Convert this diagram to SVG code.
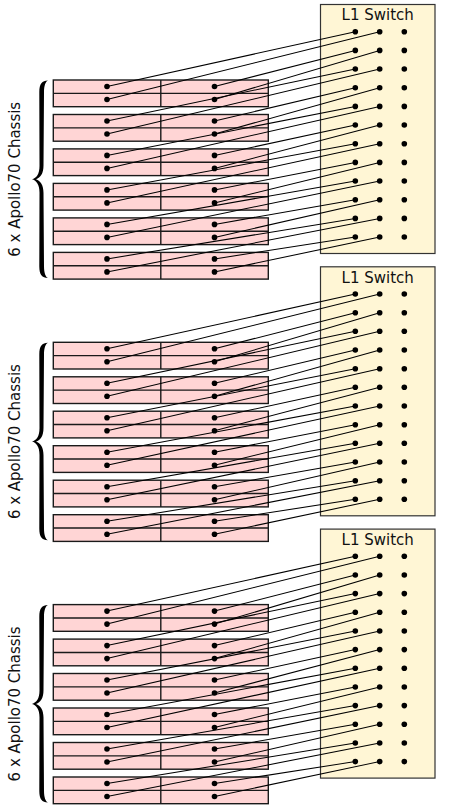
<svg xmlns="http://www.w3.org/2000/svg" xmlns:xlink="http://www.w3.org/1999/xlink" width="450" height="810" viewBox="0 0 450 810">
<style>
.ch{fill:#ffd5d5;stroke:#1a1a1a;stroke-width:1.4}
.chl{fill:none;stroke:#1a1a1a;stroke-width:1.4}
.sw{fill:#fff6d5;stroke:#333;stroke-width:1.2}
.st{font-family:"DejaVu Sans",sans-serif;font-size:15px;fill:#111;text-anchor:middle}
.lt{font-family:"DejaVu Sans",sans-serif;font-size:15px;fill:#111;text-anchor:middle}
.cn line{stroke:#000;stroke-width:1.05}
circle{fill:#000}
.br{fill:#000}
</style>
<defs>
<path id="brace" class="br" d="M48,80.5 C42,80.5 39.3,84 39.3,92 L39.5,166 C39.5,174 36.5,178 32,179.3 C36.5,180.6 39.5,184.6 39.5,192.6 L39.3,266.5 C39.3,274.5 42,278 48,278 C45.5,277 44,273 44,266 L43.5,193 C43.5,185 40.5,181 36,179.3 C40.5,177.6 43.5,173.6 43.5,165.6 L44,92.5 C44,85.5 45.5,81.5 48,80.5 Z"/>
</defs>

<!-- ===== Group 1 ===== -->
<g id="label1">
<use href="#brace"/>
<text class="lt" transform="translate(19.5,179.3) rotate(-90)" textLength="155">6 x Apollo70 Chassis</text>
</g>
<g id="chassis1-1"><rect class="ch" x="53.3" y="80" width="215" height="26.7"/><path class="chl" d="M160.8,80V106.7M53.3,93.35H268.3"/></g>
<g id="chassis1-2"><rect class="ch" x="53.3" y="114.5" width="215" height="26.7"/><path class="chl" d="M160.8,114.5V141.2M53.3,127.85H268.3"/></g>
<g id="chassis1-3"><rect class="ch" x="53.3" y="148.9" width="215" height="26.7"/><path class="chl" d="M160.8,148.9V175.6M53.3,162.25H268.3"/></g>
<g id="chassis1-4"><rect class="ch" x="53.3" y="183.4" width="215" height="26.7"/><path class="chl" d="M160.8,183.4V210.1M53.3,196.75H268.3"/></g>
<g id="chassis1-5"><rect class="ch" x="53.3" y="217.9" width="215" height="26.7"/><path class="chl" d="M160.8,217.9V244.6M53.3,231.25H268.3"/></g>
<g id="chassis1-6"><rect class="ch" x="53.3" y="252.4" width="215" height="26.7"/><path class="chl" d="M160.8,252.4V279.1M53.3,265.75H268.3"/></g>
<g id="switch1"><rect class="sw" x="320.5" y="4.5" width="114.5" height="249"/><text class="st" x="377.75" y="20.3">L1 Switch</text></g>

<!-- ===== Group 2 ===== -->
<g id="label2">
<use href="#brace" y="262.3"/>
<text class="lt" transform="translate(19.5,441.6) rotate(-90)" textLength="155">6 x Apollo70 Chassis</text>
</g>
<g id="chassis2-1"><rect class="ch" x="53.3" y="342.3" width="215" height="26.7"/><path class="chl" d="M160.8,342.3V369M53.3,355.65H268.3"/></g>
<g id="chassis2-2"><rect class="ch" x="53.3" y="376.8" width="215" height="26.7"/><path class="chl" d="M160.8,376.8V403.5M53.3,390.15H268.3"/></g>
<g id="chassis2-3"><rect class="ch" x="53.3" y="411.2" width="215" height="26.7"/><path class="chl" d="M160.8,411.2V437.9M53.3,424.55H268.3"/></g>
<g id="chassis2-4"><rect class="ch" x="53.3" y="445.7" width="215" height="26.7"/><path class="chl" d="M160.8,445.7V472.4M53.3,459.05H268.3"/></g>
<g id="chassis2-5"><rect class="ch" x="53.3" y="480.2" width="215" height="26.7"/><path class="chl" d="M160.8,480.2V506.9M53.3,493.55H268.3"/></g>
<g id="chassis2-6"><rect class="ch" x="53.3" y="514.7" width="215" height="26.7"/><path class="chl" d="M160.8,514.7V541.4M53.3,528.05H268.3"/></g>
<g id="switch2"><rect class="sw" x="320.5" y="266.8" width="114.5" height="249"/><text class="st" x="377.75" y="282.6">L1 Switch</text></g>

<!-- ===== Group 3 ===== -->
<g id="label3">
<use href="#brace" y="524.6"/>
<text class="lt" transform="translate(19.5,703.9) rotate(-90)" textLength="155">6 x Apollo70 Chassis</text>
</g>
<g id="chassis3-1"><rect class="ch" x="53.3" y="604.6" width="215" height="26.7"/><path class="chl" d="M160.8,604.6V631.3M53.3,617.95H268.3"/></g>
<g id="chassis3-2"><rect class="ch" x="53.3" y="639.1" width="215" height="26.7"/><path class="chl" d="M160.8,639.1V665.8M53.3,652.45H268.3"/></g>
<g id="chassis3-3"><rect class="ch" x="53.3" y="673.5" width="215" height="26.7"/><path class="chl" d="M160.8,673.5V700.2M53.3,686.85H268.3"/></g>
<g id="chassis3-4"><rect class="ch" x="53.3" y="708" width="215" height="26.7"/><path class="chl" d="M160.8,708V734.7M53.3,721.35H268.3"/></g>
<g id="chassis3-5"><rect class="ch" x="53.3" y="742.5" width="215" height="26.7"/><path class="chl" d="M160.8,742.5V769.2M53.3,755.85H268.3"/></g>
<g id="chassis3-6"><rect class="ch" x="53.3" y="777" width="215" height="26.7"/><path class="chl" d="M160.8,777V803.7M53.3,790.35H268.3"/></g>
<g id="switch3"><rect class="sw" x="320.5" y="529.1" width="114.5" height="249"/><text class="st" x="377.75" y="544.9">L1 Switch</text></g>

<!-- ===== Connectors ===== -->
<g id="connectors" class="cn">
<line x1="107" y1="86.5" x2="355.3" y2="31.7"/><line x1="107" y1="99.5" x2="379.7" y2="31.7"/><line x1="214.5" y1="86.5" x2="355.3" y2="50.4"/><line x1="214.5" y1="99.5" x2="379.7" y2="50.4"/>
<line x1="107" y1="121" x2="355.3" y2="69"/><line x1="107" y1="134" x2="379.7" y2="69"/><line x1="214.5" y1="121" x2="355.3" y2="87.7"/><line x1="214.5" y1="134" x2="379.7" y2="87.7"/>
<line x1="107" y1="155.4" x2="355.3" y2="106.4"/><line x1="107" y1="168.4" x2="379.7" y2="106.4"/><line x1="214.5" y1="155.4" x2="355.3" y2="125"/><line x1="214.5" y1="168.4" x2="379.7" y2="125"/>
<line x1="107" y1="189.9" x2="355.3" y2="143.7"/><line x1="107" y1="202.9" x2="379.7" y2="143.7"/><line x1="214.5" y1="189.9" x2="355.3" y2="162.4"/><line x1="214.5" y1="202.9" x2="379.7" y2="162.4"/>
<line x1="107" y1="224.4" x2="355.3" y2="181"/><line x1="107" y1="237.4" x2="379.7" y2="181"/><line x1="214.5" y1="224.4" x2="355.3" y2="199.7"/><line x1="214.5" y1="237.4" x2="379.7" y2="199.7"/>
<line x1="107" y1="258.9" x2="355.3" y2="218.4"/><line x1="107" y1="271.9" x2="379.7" y2="218.4"/><line x1="214.5" y1="258.9" x2="355.3" y2="237"/><line x1="214.5" y1="271.9" x2="379.7" y2="237"/>

<line x1="107" y1="348.8" x2="355.3" y2="294"/><line x1="107" y1="361.8" x2="379.7" y2="294"/><line x1="214.5" y1="348.8" x2="355.3" y2="312.7"/><line x1="214.5" y1="361.8" x2="379.7" y2="312.7"/>
<line x1="107" y1="383.3" x2="355.3" y2="331.3"/><line x1="107" y1="396.3" x2="379.7" y2="331.3"/><line x1="214.5" y1="383.3" x2="355.3" y2="350"/><line x1="214.5" y1="396.3" x2="379.7" y2="350"/>
<line x1="107" y1="417.7" x2="355.3" y2="368.7"/><line x1="107" y1="430.7" x2="379.7" y2="368.7"/><line x1="214.5" y1="417.7" x2="355.3" y2="387.3"/><line x1="214.5" y1="430.7" x2="379.7" y2="387.3"/>
<line x1="107" y1="452.2" x2="355.3" y2="406"/><line x1="107" y1="465.2" x2="379.7" y2="406"/><line x1="214.5" y1="452.2" x2="355.3" y2="424.7"/><line x1="214.5" y1="465.2" x2="379.7" y2="424.7"/>
<line x1="107" y1="486.7" x2="355.3" y2="443.3"/><line x1="107" y1="499.7" x2="379.7" y2="443.3"/><line x1="214.5" y1="486.7" x2="355.3" y2="462"/><line x1="214.5" y1="499.7" x2="379.7" y2="462"/>
<line x1="107" y1="521.2" x2="355.3" y2="480.7"/><line x1="107" y1="534.2" x2="379.7" y2="480.7"/><line x1="214.5" y1="521.2" x2="355.3" y2="499.3"/><line x1="214.5" y1="534.2" x2="379.7" y2="499.3"/>

<line x1="107" y1="611.1" x2="355.3" y2="556.3"/><line x1="107" y1="624.1" x2="379.7" y2="556.3"/><line x1="214.5" y1="611.1" x2="355.3" y2="575"/><line x1="214.5" y1="624.1" x2="379.7" y2="575"/>
<line x1="107" y1="645.6" x2="355.3" y2="593.6"/><line x1="107" y1="658.6" x2="379.7" y2="593.6"/><line x1="214.5" y1="645.6" x2="355.3" y2="612.3"/><line x1="214.5" y1="658.6" x2="379.7" y2="612.3"/>
<line x1="107" y1="680" x2="355.3" y2="631"/><line x1="107" y1="693" x2="379.7" y2="631"/><line x1="214.5" y1="680" x2="355.3" y2="649.6"/><line x1="214.5" y1="693" x2="379.7" y2="649.6"/>
<line x1="107" y1="714.5" x2="355.3" y2="668.3"/><line x1="107" y1="727.5" x2="379.7" y2="668.3"/><line x1="214.5" y1="714.5" x2="355.3" y2="687"/><line x1="214.5" y1="727.5" x2="379.7" y2="687"/>
<line x1="107" y1="749" x2="355.3" y2="705.6"/><line x1="107" y1="762" x2="379.7" y2="705.6"/><line x1="214.5" y1="749" x2="355.3" y2="724.3"/><line x1="214.5" y1="762" x2="379.7" y2="724.3"/>
<line x1="107" y1="783.5" x2="355.3" y2="743"/><line x1="107" y1="796.5" x2="379.7" y2="743"/><line x1="214.5" y1="783.5" x2="355.3" y2="761.6"/><line x1="214.5" y1="796.5" x2="379.7" y2="761.6"/>
</g>

<!-- ===== Ports (dots) ===== -->
<g id="ports1">
<circle cx="107" cy="86.5" r="2.8"/><circle cx="107" cy="99.5" r="2.8"/><circle cx="214.5" cy="86.5" r="2.8"/><circle cx="214.5" cy="99.5" r="2.8"/>
<circle cx="107" cy="121" r="2.8"/><circle cx="107" cy="134" r="2.8"/><circle cx="214.5" cy="121" r="2.8"/><circle cx="214.5" cy="134" r="2.8"/>
<circle cx="107" cy="155.4" r="2.8"/><circle cx="107" cy="168.4" r="2.8"/><circle cx="214.5" cy="155.4" r="2.8"/><circle cx="214.5" cy="168.4" r="2.8"/>
<circle cx="107" cy="189.9" r="2.8"/><circle cx="107" cy="202.9" r="2.8"/><circle cx="214.5" cy="189.9" r="2.8"/><circle cx="214.5" cy="202.9" r="2.8"/>
<circle cx="107" cy="224.4" r="2.8"/><circle cx="107" cy="237.4" r="2.8"/><circle cx="214.5" cy="224.4" r="2.8"/><circle cx="214.5" cy="237.4" r="2.8"/>
<circle cx="107" cy="258.9" r="2.8"/><circle cx="107" cy="271.9" r="2.8"/><circle cx="214.5" cy="258.9" r="2.8"/><circle cx="214.5" cy="271.9" r="2.8"/>
<circle cx="355.3" cy="31.7" r="2.8"/><circle cx="379.7" cy="31.7" r="2.8"/><circle cx="404.3" cy="31.7" r="2.8"/>
<circle cx="355.3" cy="50.4" r="2.8"/><circle cx="379.7" cy="50.4" r="2.8"/><circle cx="404.3" cy="50.4" r="2.8"/>
<circle cx="355.3" cy="69" r="2.8"/><circle cx="379.7" cy="69" r="2.8"/><circle cx="404.3" cy="69" r="2.8"/>
<circle cx="355.3" cy="87.7" r="2.8"/><circle cx="379.7" cy="87.7" r="2.8"/><circle cx="404.3" cy="87.7" r="2.8"/>
<circle cx="355.3" cy="106.4" r="2.8"/><circle cx="379.7" cy="106.4" r="2.8"/><circle cx="404.3" cy="106.4" r="2.8"/>
<circle cx="355.3" cy="125" r="2.8"/><circle cx="379.7" cy="125" r="2.8"/><circle cx="404.3" cy="125" r="2.8"/>
<circle cx="355.3" cy="143.7" r="2.8"/><circle cx="379.7" cy="143.7" r="2.8"/><circle cx="404.3" cy="143.7" r="2.8"/>
<circle cx="355.3" cy="162.4" r="2.8"/><circle cx="379.7" cy="162.4" r="2.8"/><circle cx="404.3" cy="162.4" r="2.8"/>
<circle cx="355.3" cy="181" r="2.8"/><circle cx="379.7" cy="181" r="2.8"/><circle cx="404.3" cy="181" r="2.8"/>
<circle cx="355.3" cy="199.7" r="2.8"/><circle cx="379.7" cy="199.7" r="2.8"/><circle cx="404.3" cy="199.7" r="2.8"/>
<circle cx="355.3" cy="218.4" r="2.8"/><circle cx="379.7" cy="218.4" r="2.8"/><circle cx="404.3" cy="218.4" r="2.8"/>
<circle cx="355.3" cy="237" r="2.8"/><circle cx="379.7" cy="237" r="2.8"/><circle cx="404.3" cy="237" r="2.8"/>
</g>
<g id="ports2">
<circle cx="107" cy="348.8" r="2.8"/><circle cx="107" cy="361.8" r="2.8"/><circle cx="214.5" cy="348.8" r="2.8"/><circle cx="214.5" cy="361.8" r="2.8"/>
<circle cx="107" cy="383.3" r="2.8"/><circle cx="107" cy="396.3" r="2.8"/><circle cx="214.5" cy="383.3" r="2.8"/><circle cx="214.5" cy="396.3" r="2.8"/>
<circle cx="107" cy="417.7" r="2.8"/><circle cx="107" cy="430.7" r="2.8"/><circle cx="214.5" cy="417.7" r="2.8"/><circle cx="214.5" cy="430.7" r="2.8"/>
<circle cx="107" cy="452.2" r="2.8"/><circle cx="107" cy="465.2" r="2.8"/><circle cx="214.5" cy="452.2" r="2.8"/><circle cx="214.5" cy="465.2" r="2.8"/>
<circle cx="107" cy="486.7" r="2.8"/><circle cx="107" cy="499.7" r="2.8"/><circle cx="214.5" cy="486.7" r="2.8"/><circle cx="214.5" cy="499.7" r="2.8"/>
<circle cx="107" cy="521.2" r="2.8"/><circle cx="107" cy="534.2" r="2.8"/><circle cx="214.5" cy="521.2" r="2.8"/><circle cx="214.5" cy="534.2" r="2.8"/>
<circle cx="355.3" cy="294" r="2.8"/><circle cx="379.7" cy="294" r="2.8"/><circle cx="404.3" cy="294" r="2.8"/>
<circle cx="355.3" cy="312.7" r="2.8"/><circle cx="379.7" cy="312.7" r="2.8"/><circle cx="404.3" cy="312.7" r="2.8"/>
<circle cx="355.3" cy="331.3" r="2.8"/><circle cx="379.7" cy="331.3" r="2.8"/><circle cx="404.3" cy="331.3" r="2.8"/>
<circle cx="355.3" cy="350" r="2.8"/><circle cx="379.7" cy="350" r="2.8"/><circle cx="404.3" cy="350" r="2.8"/>
<circle cx="355.3" cy="368.7" r="2.8"/><circle cx="379.7" cy="368.7" r="2.8"/><circle cx="404.3" cy="368.7" r="2.8"/>
<circle cx="355.3" cy="387.3" r="2.8"/><circle cx="379.7" cy="387.3" r="2.8"/><circle cx="404.3" cy="387.3" r="2.8"/>
<circle cx="355.3" cy="406" r="2.8"/><circle cx="379.7" cy="406" r="2.8"/><circle cx="404.3" cy="406" r="2.8"/>
<circle cx="355.3" cy="424.7" r="2.8"/><circle cx="379.7" cy="424.7" r="2.8"/><circle cx="404.3" cy="424.7" r="2.8"/>
<circle cx="355.3" cy="443.3" r="2.8"/><circle cx="379.7" cy="443.3" r="2.8"/><circle cx="404.3" cy="443.3" r="2.8"/>
<circle cx="355.3" cy="462" r="2.8"/><circle cx="379.7" cy="462" r="2.8"/><circle cx="404.3" cy="462" r="2.8"/>
<circle cx="355.3" cy="480.7" r="2.8"/><circle cx="379.7" cy="480.7" r="2.8"/><circle cx="404.3" cy="480.7" r="2.8"/>
<circle cx="355.3" cy="499.3" r="2.8"/><circle cx="379.7" cy="499.3" r="2.8"/><circle cx="404.3" cy="499.3" r="2.8"/>
</g>
<g id="ports3">
<circle cx="107" cy="611.1" r="2.8"/><circle cx="107" cy="624.1" r="2.8"/><circle cx="214.5" cy="611.1" r="2.8"/><circle cx="214.5" cy="624.1" r="2.8"/>
<circle cx="107" cy="645.6" r="2.8"/><circle cx="107" cy="658.6" r="2.8"/><circle cx="214.5" cy="645.6" r="2.8"/><circle cx="214.5" cy="658.6" r="2.8"/>
<circle cx="107" cy="680" r="2.8"/><circle cx="107" cy="693" r="2.8"/><circle cx="214.5" cy="680" r="2.8"/><circle cx="214.5" cy="693" r="2.8"/>
<circle cx="107" cy="714.5" r="2.8"/><circle cx="107" cy="727.5" r="2.8"/><circle cx="214.5" cy="714.5" r="2.8"/><circle cx="214.5" cy="727.5" r="2.8"/>
<circle cx="107" cy="749" r="2.8"/><circle cx="107" cy="762" r="2.8"/><circle cx="214.5" cy="749" r="2.8"/><circle cx="214.5" cy="762" r="2.8"/>
<circle cx="107" cy="783.5" r="2.8"/><circle cx="107" cy="796.5" r="2.8"/><circle cx="214.5" cy="783.5" r="2.8"/><circle cx="214.5" cy="796.5" r="2.8"/>
<circle cx="355.3" cy="556.3" r="2.8"/><circle cx="379.7" cy="556.3" r="2.8"/><circle cx="404.3" cy="556.3" r="2.8"/>
<circle cx="355.3" cy="575" r="2.8"/><circle cx="379.7" cy="575" r="2.8"/><circle cx="404.3" cy="575" r="2.8"/>
<circle cx="355.3" cy="593.6" r="2.8"/><circle cx="379.7" cy="593.6" r="2.8"/><circle cx="404.3" cy="593.6" r="2.8"/>
<circle cx="355.3" cy="612.3" r="2.8"/><circle cx="379.7" cy="612.3" r="2.8"/><circle cx="404.3" cy="612.3" r="2.8"/>
<circle cx="355.3" cy="631" r="2.8"/><circle cx="379.7" cy="631" r="2.8"/><circle cx="404.3" cy="631" r="2.8"/>
<circle cx="355.3" cy="649.6" r="2.8"/><circle cx="379.7" cy="649.6" r="2.8"/><circle cx="404.3" cy="649.6" r="2.8"/>
<circle cx="355.3" cy="668.3" r="2.8"/><circle cx="379.7" cy="668.3" r="2.8"/><circle cx="404.3" cy="668.3" r="2.8"/>
<circle cx="355.3" cy="687" r="2.8"/><circle cx="379.7" cy="687" r="2.8"/><circle cx="404.3" cy="687" r="2.8"/>
<circle cx="355.3" cy="705.6" r="2.8"/><circle cx="379.7" cy="705.6" r="2.8"/><circle cx="404.3" cy="705.6" r="2.8"/>
<circle cx="355.3" cy="724.3" r="2.8"/><circle cx="379.7" cy="724.3" r="2.8"/><circle cx="404.3" cy="724.3" r="2.8"/>
<circle cx="355.3" cy="743" r="2.8"/><circle cx="379.7" cy="743" r="2.8"/><circle cx="404.3" cy="743" r="2.8"/>
<circle cx="355.3" cy="761.6" r="2.8"/><circle cx="379.7" cy="761.6" r="2.8"/><circle cx="404.3" cy="761.6" r="2.8"/>
</g>
</svg>
